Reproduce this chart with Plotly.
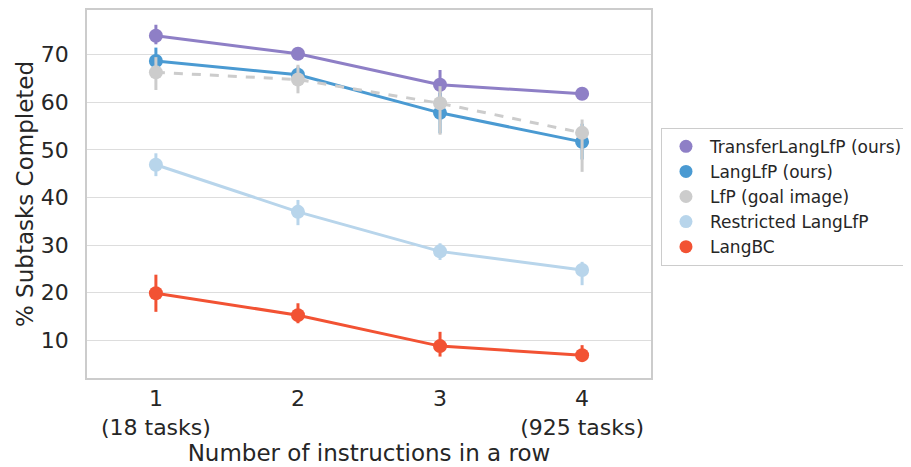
import plotly.graph_objects as go

x_vals = [1, 2, 3, 4]
tick_labels = ["1<br>(18 tasks)", "2", "3", "4<br>(925 tasks)"]

series_names = ["TransferLangLfP (ours)", "LangLfP (ours)", "LfP (goal image)",
                "Restricted LangLfP", "LangBC"]

transfer_mean = [74.0, 70.2, 63.7, 61.8]
transfer_hi = [76.3, 71.0, 66.8, 62.6]
transfer_lo = [72.2, 69.4, 60.7, 61.0]

langlfp_mean = [68.7, 65.8, 57.8, 51.7]
langlfp_hi = [71.5, 67.5, 62.0, 55.5]
langlfp_lo = [66.3, 64.0, 53.5, 48.0]

lfp_mean = [66.3, 64.8, 59.8, 53.6]
lfp_hi = [69.5, 67.9, 63.4, 56.4]
lfp_lo = [62.6, 61.9, 53.2, 45.4]

restricted_mean = [46.9, 37.0, 28.7, 24.8]
restricted_hi = [49.3, 39.5, 30.4, 26.5]
restricted_lo = [44.5, 34.2, 26.9, 21.6]

langbc_mean = [19.9, 15.3, 8.8, 6.9]
langbc_hi = [23.8, 17.8, 11.8, 9.0]
langbc_lo = [16.0, 13.6, 6.6, 5.5]

colors = ["#8e7fc6", "#4a9ad2", "#cccccc", "#b8d5eb", "#f25233"]
dashes = ["solid", "solid", "dash", "solid", "solid"]

means = [transfer_mean, langlfp_mean, lfp_mean, restricted_mean, langbc_mean]
his = [transfer_hi, langlfp_hi, lfp_hi, restricted_hi, langbc_hi]
los = [transfer_lo, langlfp_lo, lfp_lo, restricted_lo, langbc_lo]

fig = go.Figure()
for i, name in enumerate(series_names):
    m = means[i]
    up = [h - v for h, v in zip(his[i], m)]
    dn = [v - l for l, v in zip(los[i], m)]
    fig.add_trace(go.Scatter(
        x=x_vals, y=m, name=name, mode="lines+markers",
        showlegend=False,
        line=dict(color=colors[i], width=3, dash=dashes[i]),
        marker=dict(color=colors[i], size=14, symbol="circle"),
        error_y=dict(type="data", symmetric=False, array=up, arrayminus=dn,
                     color=colors[i], thickness=3, width=0),
    ))

# legend entries: marker only, like the reference
for i, name in enumerate(series_names):
    fig.add_trace(go.Scatter(
        x=[None], y=[None], name=name, mode="markers",
        marker=dict(color=colors[i], size=13, symbol="circle"),
    ))

fig.update_layout(
    width=911, height=467,
    margin=dict(l=79, r=268, t=2, b=97),
    paper_bgcolor="white", plot_bgcolor="white",
    font=dict(family="DejaVu Sans", color="#262626", size=22),
    showlegend=True,
    legend=dict(x=1.0177, xanchor="left", y=0.68, yanchor="top",
                bordercolor="#cccccc", borderwidth=1,
                font=dict(size=17, color="#262626"),
                itemwidth=38),
    xaxis=dict(range=[0.515, 4.485], tickmode="array", tickvals=x_vals,
               ticktext=tick_labels, showgrid=False, zeroline=False,
               showline=True, mirror=True, linecolor="#cccccc", linewidth=1.5,
               ticks="", ticklabelstandoff=0, automargin=False,
               tickfont=dict(size=22),
               title=dict(text="Number of instructions in a row", font=dict(size=23), standoff=1)),
    yaxis=dict(range=[2.1, 79.4], tickvals=[10, 20, 30, 40, 50, 60, 70],
               showgrid=True, gridcolor="#dddddd", gridwidth=1.2, zeroline=False,
               showline=True, mirror=True, linecolor="#cccccc", linewidth=1.5,
               ticks="", ticklabelstandoff=12, automargin=False,
               tickfont=dict(size=22),
               title=dict(text="% Subtasks Completed", font=dict(size=23), standoff=1)),
)

fig.write_html("out.html")
